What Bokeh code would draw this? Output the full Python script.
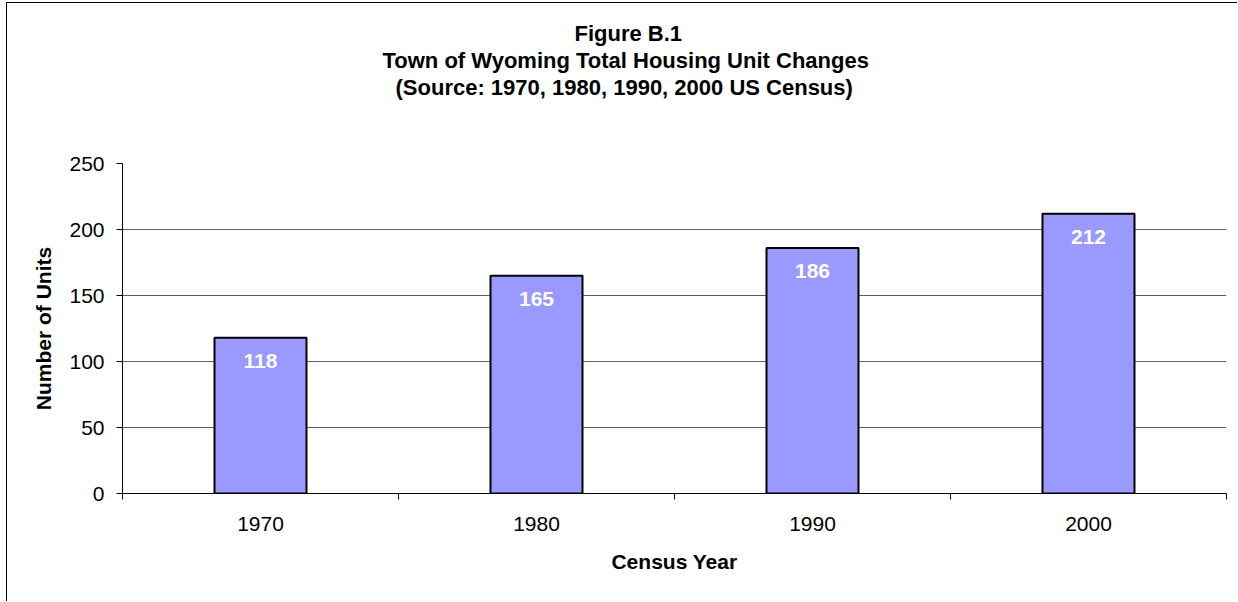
from bokeh.plotting import figure
from bokeh.models import FixedTicker, Title, Range1d, ColumnDataSource, LabelSet
from bokeh.embed import file_html
from bokeh.resources import INLINE
from bokeh.core.properties import value

# ---- data ----
years = ["1970", "1980", "1990", "2000"]
units = [118, 165, 186, 212]
y_ticks = [0, 50, 100, 150, 200, 250]
title_lines = [
    "Figure B.1",
    "Town of Wyoming Total Housing Unit Changes",
    "(Source:  1970, 1980, 1990, 2000 US Census)",
]
x_label = "Census Year"
y_label = "Number of Units"

FONT = "Liberation Sans"
FS = "21px"
TFS = "22px"
# left offsets (px from plot-area left) so the title block is centred over the whole chart
title_offsets = [452, 260, 273]

centers = [i + 0.5 for i in range(len(years))]
bounds = list(range(len(years) + 1))

src = ColumnDataSource(dict(x=centers, top=units, label=[str(u) for u in units]))

p = figure(width=1231, height=599, output_backend="svg", toolbar_location=None,
           x_range=Range1d(0, len(years)), y_range=Range1d(0, 250),
           min_border_left=115, min_border_right=12, min_border_top=160,
           min_border_bottom=109, title=None)
p.styles = {"border-left": "1px solid black", "border-top": "1px solid black",
            "margin-left": "6px", "margin-top": "2px"}
p.outline_line_color = None
p.background_fill_color = "white"
p.border_fill_color = "white"

# spacer between titles and plot area (blank)
p.add_layout(Title(text=" ", align="center", text_font=FONT, text_font_size=TFS,
                   text_color="white", standoff=37), "above")
# titles (added nearest-first)
for t, off in reversed(list(zip(title_lines, title_offsets))):
    p.add_layout(Title(text=t, align="left", offset=off, text_font=FONT,
                       text_font_size=TFS, text_font_style="bold",
                       text_color="black", standoff=0), "above")

p.vbar(x="x", top="top", width=1/3, bottom=0, source=src,
       fill_color="#9999FF", line_color="black", line_width=2)

labels = LabelSet(x="x", y="top", text="label", source=src, text_align="center",
                  text_baseline="middle", y_offset=-23, text_color="white",
                  text_font=value(FONT), text_font_size=value(FS),
                  text_font_style="bold")
p.add_layout(labels)

# grid
p.xgrid.visible = False
p.ygrid.ticker = FixedTicker(ticks=y_ticks)
p.ygrid.grid_line_color = "#606060"
p.ygrid.grid_line_width = 1

# y axis
ya = p.yaxis[0]
ya.ticker = FixedTicker(ticks=y_ticks)
ya.axis_label = y_label
ya.axis_label_text_font = FONT
ya.axis_label_text_font_size = FS
ya.axis_label_text_font_style = "bold"
ya.axis_label_text_color = "black"
ya.axis_label_standoff = 11
ya.major_label_text_font = FONT
ya.major_label_text_font_size = FS
ya.major_label_text_color = "black"
ya.major_label_standoff = 12
ya.major_tick_in = 0
ya.major_tick_out = 6
ya.minor_tick_line_color = None
ya.axis_line_color = "black"
ya.major_tick_line_color = "black"

# x axis
xa = p.xaxis[0]
xa.ticker = FixedTicker(ticks=centers, minor_ticks=bounds)
xa.major_label_overrides = {c: y for c, y in zip(centers, years)}
xa.axis_label = x_label
xa.axis_label_text_font = FONT
xa.axis_label_text_font_size = FS
xa.axis_label_text_font_style = "bold"
xa.axis_label_text_color = "black"
xa.axis_label_standoff = 16
xa.major_label_text_font = FONT
xa.major_label_text_font_size = FS
xa.major_label_text_color = "black"
xa.major_label_standoff = 17
xa.major_tick_line_color = None
xa.major_tick_in = 0
xa.major_tick_out = 6
xa.minor_tick_in = 0
xa.minor_tick_out = 6
xa.minor_tick_line_color = "black"
xa.axis_line_color = "black"

open("out.html", "w").write(file_html(p, INLINE))
